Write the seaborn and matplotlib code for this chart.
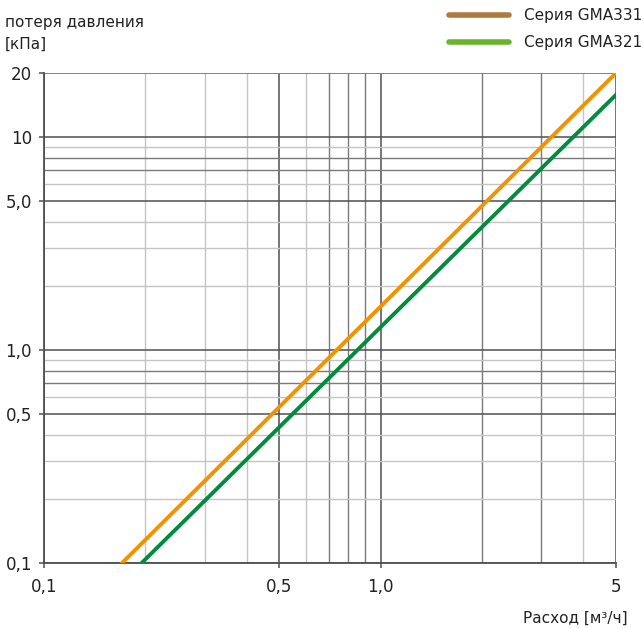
import matplotlib
matplotlib.use("Agg")
import matplotlib.pyplot as plt
from matplotlib.lines import Line2D
from matplotlib.ticker import FixedLocator, NullLocator, NullFormatter
import seaborn as sns
import pandas as pd

# ---- data ----
series_names = ["Серия GMA331", "Серия GMA321"]
flow_gma331 = [0.1705, 5.0]
dp_gma331 = [0.1, 20.0]
flow_gma321 = [0.195, 5.0]
dp_gma321 = [0.1, 15.8]

x_ticks = [0.1, 0.5, 1.0, 5.0]
x_tick_labels = ["0,1", "0,5", "1,0", "5"]
y_ticks = [0.1, 0.5, 1.0, 5.0, 10.0, 20.0]
y_tick_labels = ["0,1", "0,5", "1,0", "5,0", "10", "20"]

x_grid_light = [0.2, 0.3, 0.4, 0.6, 4.0]
x_grid_mid = [0.7, 0.8, 0.9, 2.0, 3.0]
y_grid_light = [0.2, 0.3, 0.4, 0.6, 0.9, 2.0, 3.0, 4.0, 6.0, 9.0]
y_grid_mid = [0.7, 0.8, 7.0, 8.0]

line_colors = ["#F39200", "#008C3C"]
legend_colors = ["#B07A3E", "#6AB42D"]

df = pd.DataFrame({
    "flow": flow_gma331 + flow_gma321,
    "dp": dp_gma331 + dp_gma321,
    "series": [series_names[0]] * len(flow_gma331) + [series_names[1]] * len(flow_gma321),
})

sns.set_theme(style="white")
plt.rcParams["font.family"] = ["DejaVu Sans"]

fig = plt.figure(figsize=(6.43, 6.28), dpi=100)
ax = fig.add_axes([44 / 643, 1 - 563 / 628, 572 / 643, 490 / 628])
ax.set_xscale("log")
ax.set_yscale("log")
ax.set_xlim(0.1, 5.0)
ax.set_ylim(0.1, 20.0)

# grid lines
for v in x_grid_light:
    ax.axvline(v, color="#c4c4c4", lw=1.0, zorder=1)
for v in x_grid_mid:
    ax.axvline(v, color="#7a7a7a", lw=1.0, zorder=1)
for v in x_ticks:
    ax.axvline(v, color="#505050", lw=1.1, zorder=1)
for v in y_grid_light:
    ax.axhline(v, color="#c4c4c4", lw=1.0, zorder=1)
for v in y_grid_mid:
    ax.axhline(v, color="#7a7a7a", lw=1.0, zorder=1)
for v in y_ticks:
    ax.axhline(v, color="#505050", lw=1.1, zorder=1)
ax.axhline(20.0, color="#8a8a8a", lw=1.2, zorder=1)

sns.lineplot(data=df, x="flow", y="dp", hue="series", palette=line_colors,
             linewidth=2.8, ax=ax, legend=False, zorder=3)

ax.xaxis.set_major_locator(FixedLocator(x_ticks))
ax.xaxis.set_minor_locator(NullLocator())
ax.xaxis.set_minor_formatter(NullFormatter())
ax.set_xticklabels(x_tick_labels)
ax.yaxis.set_major_locator(FixedLocator(y_ticks))
ax.yaxis.set_minor_locator(NullLocator())
ax.yaxis.set_minor_formatter(NullFormatter())
ax.set_yticklabels(y_tick_labels)

ax.tick_params(axis="both", which="major", direction="out", length=3.6, width=1.1,
               color="#505050", labelsize=12, labelcolor="#222222",
               left=True, bottom=True)
ax.tick_params(axis="x", pad=7.5)
ax.tick_params(axis="y", pad=5)

for side in ["top", "right"]:
    ax.spines[side].set_visible(False)
for side in ["left", "bottom"]:
    ax.spines[side].set_color("#505050")
    ax.spines[side].set_linewidth(1.3)

ax.set_xlabel("")
ax.set_ylabel("")

fig.text(5 / 643, 1 - 22 / 628, "потеря давления", fontsize=11, color="#222222",
         ha="left", va="center")
fig.text(5 / 643, 1 - 44 / 628, "[кПа]", fontsize=11, color="#222222",
         ha="left", va="center")
fig.text(628 / 643, 1 - 618 / 628, "Расход [м³/ч]", fontsize=11, color="#222222",
         ha="right", va="center")

handles = [Line2D([0], [0], color=c, lw=4) for c in legend_colors]
fig.legend(handles, series_names, loc="upper right", bbox_to_anchor=(1.012, 1.0),
           frameon=False, fontsize=11, handlelength=3.9, handletextpad=1.0,
           labelspacing=0.75, borderaxespad=0.15, labelcolor="#222222")

fig.savefig("out.png", dpi=100)
